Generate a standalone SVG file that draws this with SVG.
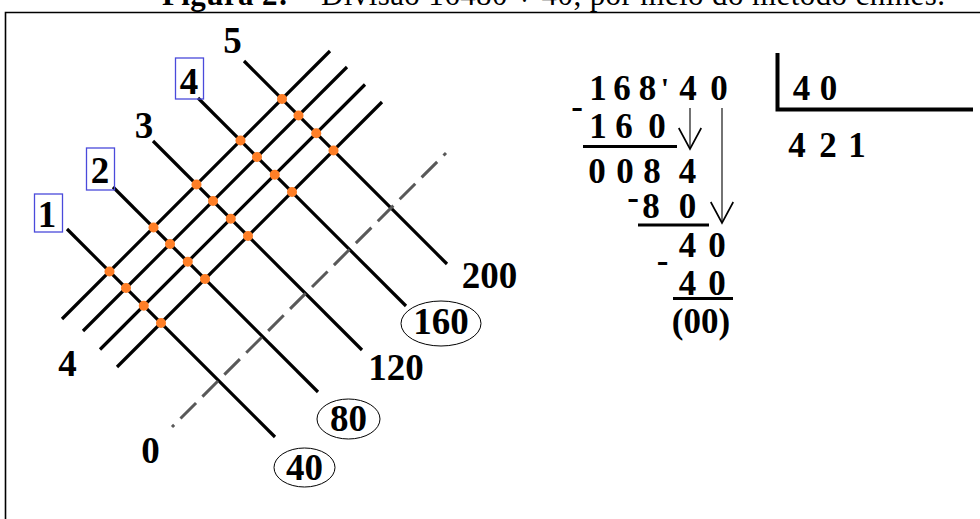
<svg xmlns="http://www.w3.org/2000/svg" width="980" height="519" viewBox="0 0 980 519">
<defs>
<style>
.t{font-family:"Liberation Serif","Times New Roman",serif;fill:#000}
.b{font-weight:bold}
.big{font-size:37px}
.mid{font-size:35px}
.ttl{font-size:31px}
.ln{stroke:#000;stroke-width:3.2;fill:none}
.dash{stroke:#595959;stroke-width:3;fill:none;stroke-dasharray:22 9;stroke-dashoffset:19}
.dot{fill:#FF7F27}
.box{fill:none;stroke:#4A4ADB;stroke-width:1.3}
.ell{fill:none;stroke:#000;stroke-width:1}
.ul{stroke:#000;stroke-width:3}
.thin{stroke:#000;stroke-width:1.1;fill:none}
</style>
<marker id="vh" markerUnits="userSpaceOnUse" markerWidth="30" markerHeight="30" viewBox="-16 -10 20 20" refX="0" refY="0" orient="auto" overflow="visible">
<path d="M-14,-7.5 L0,0 L-14,7.5" fill="none" stroke="#000" stroke-width="1.1"/>
</marker>
</defs>
<rect width="980" height="519" fill="#fff"/>
<path d="M5.5 519 V12.5 H980" fill="none" stroke="#000" stroke-width="1.6"/>
<g id="title" class="t ttl">
<text x="162" y="4.5" textLength="783" lengthAdjust="spacing"><tspan class="b">Figura 2:</tspan> – Divisão 16480 ÷ 40, por meio do método chinês.</text>
</g>
<g id="grid">
<g id="descending">
<line class="ln" x1="67" y1="229" x2="275" y2="437"/>
<line class="ln" x1="113" y1="187" x2="318" y2="392"/>
<line class="ln" x1="153" y1="141" x2="362" y2="350"/>
<line class="ln" x1="198" y1="98" x2="406" y2="306"/>
<line class="ln" x1="244" y1="61" x2="447" y2="264"/>
</g>
<g id="ascending">
<line class="ln" x1="62" y1="319" x2="330" y2="51"/>
<line class="ln" x1="83" y1="331" x2="347" y2="67"/>
<line class="ln" x1="100" y1="349.5" x2="365" y2="84.5"/>
<line class="ln" x1="117" y1="367" x2="382" y2="102"/>
</g>
<line id="diag" class="dash" x1="172" y1="427" x2="446" y2="153"/>
<g id="dots" class="dot">
<circle cx="109.5" cy="271.5" r="5"/><circle cx="126" cy="288" r="5"/><circle cx="143.75" cy="305.75" r="5"/><circle cx="161" cy="323" r="5"/>
<circle cx="153.5" cy="227.5" r="5"/><circle cx="170" cy="244" r="5"/><circle cx="187.75" cy="261.75" r="5"/><circle cx="205" cy="279" r="5"/>
<circle cx="196.5" cy="184.5" r="5"/><circle cx="213" cy="201" r="5"/><circle cx="230.75" cy="218.75" r="5"/><circle cx="248" cy="236" r="5"/>
<circle cx="240.5" cy="140.5" r="5"/><circle cx="257" cy="157" r="5"/><circle cx="274.75" cy="174.75" r="5"/><circle cx="292" cy="192" r="5"/>
<circle cx="282" cy="99" r="5"/><circle cx="298.5" cy="115.5" r="5"/><circle cx="316.25" cy="133.25" r="5"/><circle cx="333.5" cy="150.5" r="5"/>
</g>
</g>
<g id="labels" class="t b big" text-anchor="middle">
<text x="232.5" y="53">5</text>
<rect class="box" x="175.5" y="58" width="28" height="41"/>
<text x="189" y="94">4</text>
<text x="144" y="138">3</text>
<rect class="box" x="86.5" y="148" width="28" height="42"/>
<text x="100" y="183">2</text>
<rect class="box" x="34.5" y="194" width="28" height="38"/>
<text x="47" y="227">1</text>
<text x="67.5" y="376">4</text>
<text x="150.5" y="463">0</text>
<ellipse class="ell" cx="304.5" cy="467.5" rx="30.5" ry="19.5"/>
<text x="304.5" y="480">40</text>
<ellipse class="ell" cx="348.5" cy="419" rx="31.5" ry="20"/>
<text x="348.5" y="431">80</text>
<text x="396" y="380">120</text>
<ellipse class="ell" cx="441" cy="323.5" rx="40" ry="22.5"/>
<text x="441" y="334">160</text>
<text x="489.5" y="288">200</text>
</g>
<g id="division" class="t b mid" text-anchor="middle">
<text y="100"><tspan x="598">1</tspan><tspan x="622">6</tspan><tspan x="647.5">8</tspan><tspan x="688">4</tspan><tspan x="719">0</tspan></text>
<text x="665" y="98" font-size="30">'</text>
<text x="577" y="118">-</text>
<text y="138"><tspan x="598">1</tspan><tspan x="624">6</tspan><tspan x="657">0</tspan></text>
<line class="ul" x1="583" y1="146.5" x2="677" y2="146.5"/>
<text y="183"><tspan x="597">0</tspan><tspan x="625">0</tspan><tspan x="652">8</tspan><tspan x="687.5">4</tspan></text>
<text x="633" y="209">-</text>
<text y="218"><tspan x="651">8</tspan><tspan x="687.5">0</tspan></text>
<line class="ul" x1="638" y1="225" x2="709" y2="225"/>
<text y="257"><tspan x="687.5">4</tspan><tspan x="717">0</tspan></text>
<text x="662.5" y="272">-</text>
<text y="295"><tspan x="687.5">4</tspan><tspan x="717">0</tspan></text>
<line class="ul" x1="673" y1="298.5" x2="733" y2="298.5"/>
<text x="701" y="333">(00)</text>
<text y="100"><tspan x="801.5">4</tspan><tspan x="828.5">0</tspan></text>
<text y="157"><tspan x="797">4</tspan><tspan x="828">2</tspan><tspan x="857">1</tspan></text>
</g>
<g id="connectors">
<line class="thin" x1="690" y1="108" x2="690" y2="149" marker-end="url(#vh)"/>
<line class="thin" x1="722" y1="108" x2="722" y2="223" marker-end="url(#vh)"/>
<path d="M777.5 53 V109.5 H973" fill="none" stroke="#000" stroke-width="4"/>
</g>
</svg>
